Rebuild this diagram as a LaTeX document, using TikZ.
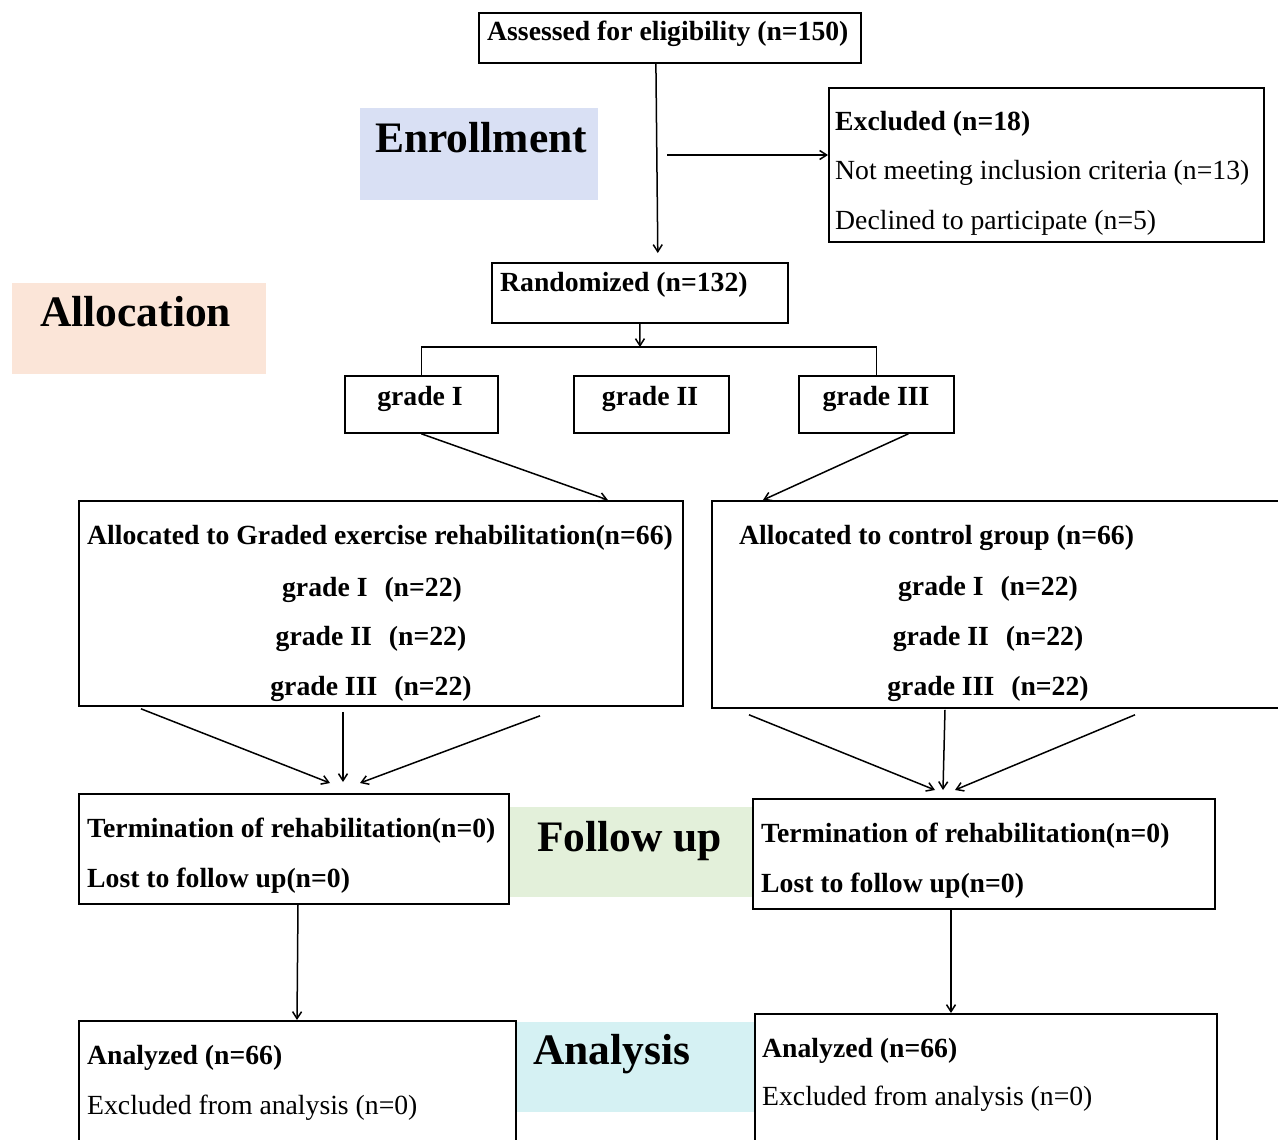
\documentclass[tikz,border=0pt]{standalone}
\usepackage{fontspec}
\setmainfont{Liberation Serif}
\usetikzlibrary{arrows.meta,calc}
\definecolor{enrfill}{HTML}{D9E0F4}
\definecolor{allfill}{HTML}{FBE5D8}
\definecolor{folfill}{HTML}{E3F0DA}
\definecolor{anafill}{HTML}{D5F1F3}
\tikzset{
  box/.style={draw=black, line width=1.8pt, fill=white, rectangle, inner sep=0pt, anchor=north west},
  stage/.style={rectangle, inner sep=0pt, anchor=north west, draw=none},
  txt/.style={anchor=base west, inner sep=0pt, font=\fontsize{27.7}{33}\selectfont},
  btxt/.style={txt, font=\fontsize{27.7}{33}\selectfont\bfseries},
  ctxt/.style={btxt, anchor=base},
  stxt/.style={anchor=base west, inner sep=0pt, font=\fontsize{43.5}{50}\selectfont\bfseries},
  conn/.style={line width=1.5pt, draw=black},
  arr/.style={conn, -{Straight Barb[length=7pt,width=9pt]}}
}
\begin{document}
\begin{tikzpicture}[x=1pt,y=-1pt]
\clip (0,0) rectangle (1278,1140);
\fill[white] (0,0) rectangle (1278,1140);

% stage labels (backgrounds)
\node[stage, fill=enrfill, minimum width=238pt, minimum height=92pt] (enr) at (360,108) {};
\node[stage, fill=allfill, minimum width=254pt, minimum height=91pt] (alloc) at (12,283) {};
\node[stage, fill=folfill, minimum width=244pt, minimum height=90pt] (fol) at (508,807) {};
\node[stage, fill=anafill, minimum width=238pt, minimum height=90pt] (ana) at (516,1022) {};
\node[stxt] (enrt) at (375,152) {Enrollment};
\node[stxt] (allt) at (40,326) {Allocation};
\node[stxt] (folt) at (537,851) {Follow up};
\node[stxt] (anat) at (533,1064) {Analysis};

% boxes
\node[box, minimum width=382pt, minimum height=50pt] (assess) at (478,12) {};
\node[box, minimum width=435pt, minimum height=154pt] (excl) at (828,87) {};
\node[box, minimum width=296pt, minimum height=60pt] (rand) at (491,262) {};
\node[box, minimum width=153pt, minimum height=57pt] (g1) at (344,375) {};
\node[box, minimum width=155pt, minimum height=57pt] (g2) at (573,375) {};
\node[box, minimum width=155pt, minimum height=57pt] (g3) at (798,375) {};
\node[box, minimum width=604pt, minimum height=205pt] (ge) at (78,500) {};
\node[box, minimum width=579pt, minimum height=207pt] (ctrl) at (711,500) {};
\node[box, minimum width=430pt, minimum height=110pt] (fl) at (78,793) {};
\node[box, minimum width=462pt, minimum height=110pt] (fr) at (752,798) {};
\node[box, minimum width=437pt, minimum height=140pt] (al) at (78,1020) {};
\node[box, minimum width=462pt, minimum height=147pt] (ar) at (754,1013) {};

% texts
\node[btxt] (assesst) at (487,41) {Assessed for eligibility (n=150)};
\node[btxt] (exclt1) at (835,130) {Excluded (n=18)};
\node[txt] (exclt2) at (835,179) {Not meeting inclusion criteria (n=13)};
\node[txt] (exclt3) at (835,229) {Declined to participate (n=5)};
\node[btxt] (randt) at (500,291) {Randomized (n=132)};
\node[ctxt] (g1t) at (420,405) {grade I};
\node[ctxt] (g2t) at (650,405) {grade II};
\node[ctxt] (g3t) at (876,405) {grade III};

\node[btxt] (get) at (87,544) {Allocated to Graded exercise rehabilitation(n=66)};
\node[ctxt] (ge1) at (372,596) {grade I\hspace{17pt}(n=22)};
\node[ctxt] (ge2) at (371,645) {grade II\hspace{17pt}(n=22)};
\node[ctxt] (ge3) at (371,695) {grade III\hspace{17pt}(n=22)};

\node[btxt] (ctrlt) at (739,544) {Allocated to control group (n=66)};
\node[ctxt] (c1) at (988,595) {grade I\hspace{17pt}(n=22)};
\node[ctxt] (c2) at (988,645) {grade II\hspace{17pt}(n=22)};
\node[ctxt] (c3) at (988,695) {grade III\hspace{17pt}(n=22)};

\node[btxt] (flt1) at (87,837) {Termination of rehabilitation(n=0)};
\node[btxt] (flt2) at (87,887) {Lost to follow up(n=0)};
\node[btxt] (frt1) at (761,842) {Termination of rehabilitation(n=0)};
\node[btxt] (frt2) at (761,892) {Lost to follow up(n=0)};

\node[btxt] (alt1) at (87,1064) {Analyzed (n=66)};
\node[txt] (alt2) at (87,1114) {Excluded from analysis (n=0)};
\node[btxt] (art1) at (762,1057) {Analyzed (n=66)};
\node[txt] (art2) at (762,1105) {Excluded from analysis (n=0)};

% connectors
\draw[arr, shorten >=9pt] ([xshift=-14pt]assess.south) -- ([xshift=18pt]rand.north);
\coordinate (exclstart) at (667,155);
\draw[arr] (exclstart) -- (exclstart -| excl.west);
\coordinate (split) at (640,347);
\draw[arr] (rand.south) -- (split);
\draw[conn] (g1.north) |- (split) -| (g3.north);
\draw[arr] (g1.south) -- ([xshift=227pt]ge.north);
\draw[arr] ([xshift=32pt]g3.south) -- ([xshift=52pt]ctrl.north west);

\draw[arr] ([xshift=63pt,yshift=-2pt]ge.south west) -- ([xshift=252pt,yshift=10pt]fl.north west);
\draw[arr] ([xshift=265pt,yshift=-5pt]ge.south west) -- ([xshift=265pt,yshift=11pt]fl.north west);
\draw[arr] ([xshift=462pt,yshift=-9pt]ge.south west) -- ([xshift=282pt,yshift=10pt]fl.north west);

\draw[arr] ([xshift=38pt,yshift=-6pt]ctrl.south west) -- ([xshift=183pt,yshift=8pt]fr.north west);
\draw[arr] ([xshift=234pt,yshift=-1pt]ctrl.south west) -- ([xshift=191pt,yshift=8pt]fr.north west);
\draw[arr] ([xshift=424pt,yshift=-6pt]ctrl.south west) -- ([xshift=203pt,yshift=8pt]fr.north west);

\draw[arr] ([xshift=220pt]fl.south west) -- ([xshift=219pt]al.north west);
\draw[arr] ([xshift=199pt]fr.south west) -- ([xshift=197pt]ar.north west);
\end{tikzpicture}
\end{document}
